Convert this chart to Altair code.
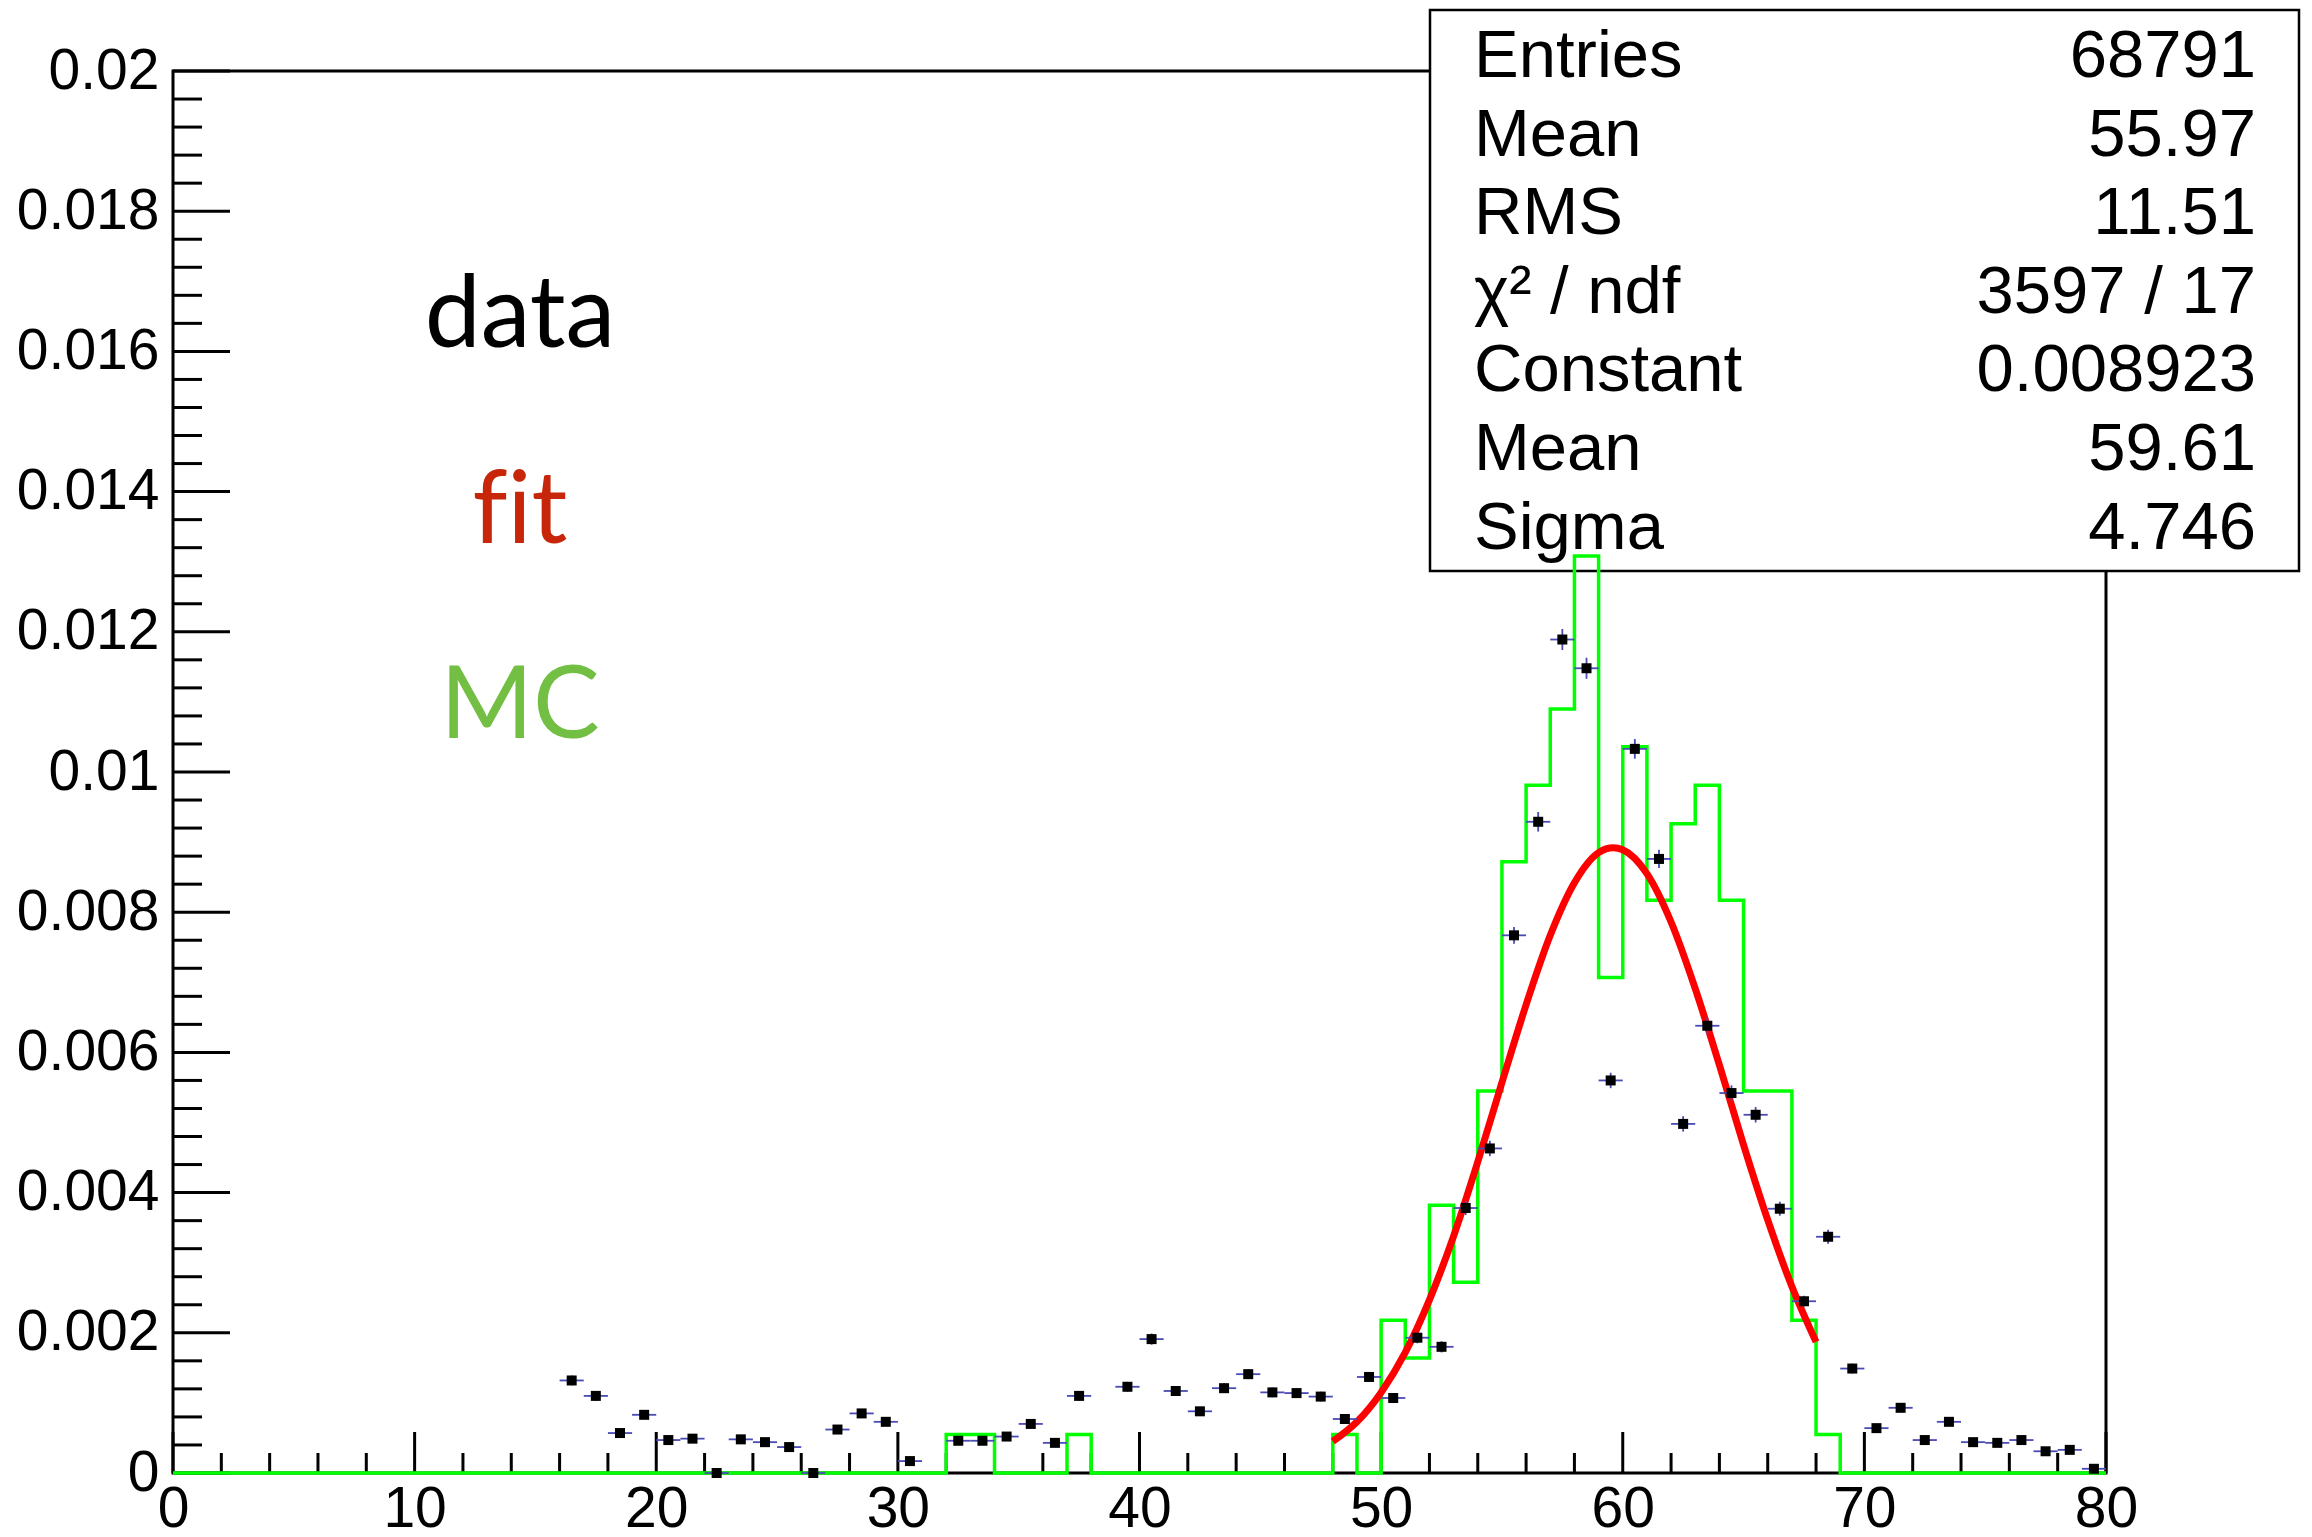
import altair as alt
import pandas as pd

# ---------------- data ----------------
# data histogram (bin centres) and contents
data_x = [16.5, 17.5, 18.5, 19.5, 20.5, 21.5, 22.5, 23.5, 24.5, 25.5, 26.5, 27.5, 28.5, 29.5, 30.5,
          32.5, 33.5, 34.5, 35.5, 36.5, 37.5,
          39.5, 40.5, 41.5, 42.5, 43.5, 44.5, 45.5, 46.5, 47.5, 48.5,
          49.5, 50.5, 51.5, 52.5, 53.5, 54.5, 55.5, 56.5, 57.5, 58.5,
          59.5, 60.5, 61.5, 62.5, 63.5, 64.5, 65.5, 66.5, 67.5, 68.5,
          69.5, 70.5, 71.5, 72.5, 73.5, 74.5, 75.5, 76.5, 77.5, 78.5,
          79.5]
data_y = [1.32e-3, 1.10e-3, 0.57e-3, 0.83e-3, 0.47e-3, 0.49e-3, 0.00e-3, 0.48e-3, 0.44e-3, 0.37e-3,
          0.00e-3, 0.62e-3, 0.85e-3, 0.73e-3, 0.17e-3,
          0.46e-3, 0.46e-3, 0.52e-3, 0.70e-3, 0.43e-3, 1.10e-3,
          1.23e-3, 1.91e-3, 1.17e-3, 0.88e-3, 1.21e-3, 1.41e-3, 1.15e-3, 1.14e-3, 1.09e-3, 0.77e-3,
          1.37e-3, 1.07e-3, 1.93e-3, 1.80e-3, 3.78e-3, 4.63e-3, 7.67e-3, 9.29e-3, 11.89e-3, 11.48e-3,
          5.60e-3, 10.33e-3, 8.76e-3, 4.98e-3, 6.38e-3, 5.42e-3, 5.11e-3, 3.77e-3, 2.45e-3, 3.37e-3,
          1.49e-3, 0.64e-3, 0.93e-3, 0.47e-3, 0.73e-3, 0.44e-3, 0.43e-3, 0.47e-3, 0.31e-3, 0.33e-3,
          0.06e-3]
data_err = [0.07e-3, 0.07e-3, 0.05e-3, 0.05e-3, 0.05e-3, 0.05e-3, 0.02e-3, 0.05e-3, 0.05e-3, 0.05e-3,
            0.02e-3, 0.05e-3, 0.05e-3, 0.05e-3, 0.03e-3,
            0.05e-3, 0.05e-3, 0.05e-3, 0.05e-3, 0.05e-3, 0.07e-3,
            0.07e-3, 0.08e-3, 0.07e-3, 0.05e-3, 0.07e-3, 0.07e-3, 0.07e-3, 0.07e-3, 0.07e-3, 0.05e-3,
            0.07e-3, 0.07e-3, 0.08e-3, 0.08e-3, 0.10e-3, 0.11e-3, 0.12e-3, 0.14e-3, 0.15e-3, 0.15e-3,
            0.11e-3, 0.14e-3, 0.13e-3, 0.11e-3, 0.12e-3, 0.11e-3, 0.11e-3, 0.10e-3, 0.08e-3, 0.10e-3,
            0.07e-3, 0.05e-3, 0.05e-3, 0.05e-3, 0.05e-3, 0.05e-3, 0.05e-3, 0.05e-3, 0.04e-3, 0.04e-3,
            0.02e-3]
bin_half = 0.5

# MC histogram: non-empty bins (lower edge -> content); all other bins are empty
mc_nonzero = {32: 0.55e-3, 33: 0.55e-3, 37: 0.55e-3, 48: 0.55e-3,
              50: 2.18e-3, 51: 1.64e-3, 52: 3.82e-3, 53: 2.72e-3, 54: 5.45e-3,
              55: 8.72e-3, 56: 9.81e-3, 57: 10.90e-3, 58: 13.08e-3, 59: 7.07e-3,
              60: 10.36e-3, 61: 8.17e-3, 62: 9.26e-3, 63: 9.81e-3, 64: 8.17e-3,
              65: 5.45e-3, 66: 5.45e-3, 67: 2.18e-3, 68: 0.55e-3}
mc_edges = list(range(0, 81))

# Gaussian fit curve
fit_x = [48, 49, 50, 51, 52, 53, 54, 55, 56, 57, 58, 59, 59.61, 60, 61, 62, 63, 64, 65, 66, 67, 68]
fit_y = [0.45e-3, 0.73e-3, 1.15e-3, 1.72e-3, 2.47e-3, 3.38e-3, 4.44e-3, 5.57e-3, 6.68e-3, 7.67e-3,
         8.42e-3, 8.85e-3, 8.92e-3, 8.89e-3, 8.55e-3, 7.86e-3, 6.91e-3, 5.82e-3, 4.68e-3, 3.61e-3,
         2.66e-3, 1.87e-3]

# axis ticks
x_major = [0, 10, 20, 30, 40, 50, 60, 70, 80]
x_minor = [v for v in range(0, 81, 2) if v % 10 != 0]
y_major = [0, 0.002, 0.004, 0.006, 0.008, 0.01, 0.012, 0.014, 0.016, 0.018, 0.02]
y_minor = [i * 0.0004 for i in range(0, 51) if i % 5 != 0]

# statistics box
stat_labels = ["Entries", "Mean", "RMS", "\u03c7\u00b2 / ndf", "Constant", "Mean", "Sigma"]
stat_values = ["68791", "55.97", "11.51", "3597 / 17", "0.008923", "59.61", "4.746"]

# ---------------- chart ----------------
W, H = 1933, 1402
FONT = "Liberation Sans"
xs = alt.Scale(domain=[0, 80], nice=False, zero=False)
ys = alt.Scale(domain=[0, 0.02], nice=False, zero=False)
x_axis = alt.Axis(values=x_major, format="d", ticks=False, domain=False, grid=False,
                  labelFont=FONT, labelFontSize=57, labelColor="black", labelPadding=8,
                  labelFlush=False, labelOverlap=False, title=None)
y_axis = alt.Axis(values=y_major, format="~g", ticks=False, domain=False, grid=False,
                  labelFont=FONT, labelFontSize=57, labelColor="black", labelPadding=14,
                  labelFlush=False, labelOverlap=False, labelBaseline="middle", title=None)

pts = pd.DataFrame({"x": data_x, "y": data_y, "e": data_err})
pts["lo"] = pts["x"] - bin_half
pts["hi"] = pts["x"] + bin_half
pts["ylo"] = pts["y"] - pts["e"]
pts["yhi"] = pts["y"] + pts["e"]

mc = pd.DataFrame({"x": mc_edges,
                   "y": [mc_nonzero.get(i, 0.0) for i in mc_edges]})
fit = pd.DataFrame({"x": fit_x, "y": fit_y})
one = pd.DataFrame({"a": [0]})

frame = alt.Chart(one).mark_rect(fill="transparent", stroke="black", strokeWidth=3).encode(
    x=alt.value(0), x2=alt.value(W), y=alt.value(0), y2=alt.value(H))

xt_major = alt.Chart(pd.DataFrame({"v": x_major})).mark_rule(color="black", strokeWidth=3).encode(
    x=alt.X("v:Q", scale=xs, axis=x_axis), y=alt.value(H), y2=alt.value(H - 41))
xt_minor = alt.Chart(pd.DataFrame({"v": x_minor})).mark_rule(color="black", strokeWidth=3).encode(
    x=alt.X("v:Q", scale=xs, axis=x_axis), y=alt.value(H), y2=alt.value(H - 20))
yt_major = alt.Chart(pd.DataFrame({"v": y_major})).mark_rule(color="black", strokeWidth=3).encode(
    y=alt.Y("v:Q", scale=ys, axis=y_axis), x=alt.value(0), x2=alt.value(57))
yt_minor = alt.Chart(pd.DataFrame({"v": y_minor})).mark_rule(color="black", strokeWidth=3).encode(
    y=alt.Y("v:Q", scale=ys, axis=y_axis), x=alt.value(0), x2=alt.value(29))

box = alt.Chart(one).mark_rect(fill="white", stroke="black", strokeWidth=2.5).encode(
    x=alt.value(1257), x2=alt.value(2126), y=alt.value(-61), y2=alt.value(500))

stat_layers = []
for i, (lab, val) in enumerate(zip(stat_labels, stat_values)):
    yy = 6 + 78.6 * i
    stat_layers.append(alt.Chart(one).mark_text(
        align="left", baseline="alphabetic", font=FONT, fontSize=67, color="black").encode(
        x=alt.value(1301), y=alt.value(yy), text=alt.value(lab)))
    stat_layers.append(alt.Chart(one).mark_text(
        align="right", baseline="alphabetic", font=FONT, fontSize=67, color="black").encode(
        x=alt.value(2083), y=alt.value(yy), text=alt.value(val)))

mc_line = alt.Chart(mc).mark_line(interpolate="step-after", color="#00ff00", strokeWidth=3.5).encode(
    x=alt.X("x:Q", scale=xs, axis=x_axis), y=alt.Y("y:Q", scale=ys, axis=y_axis))

fit_line = alt.Chart(fit).mark_line(interpolate="monotone", color="#ff0000", strokeWidth=7).encode(
    x=alt.X("x:Q", scale=xs, axis=x_axis), y=alt.Y("y:Q", scale=ys, axis=y_axis))

herr = alt.Chart(pts).mark_rule(color="#4b4bb4", strokeWidth=1.8).encode(
    x=alt.X("lo:Q", scale=xs, axis=x_axis), x2="hi:Q", y=alt.Y("y:Q", scale=ys, axis=y_axis))
verr = alt.Chart(pts).mark_rule(color="#4b4bb4", strokeWidth=1.8).encode(
    x=alt.X("x:Q", scale=xs, axis=x_axis), y=alt.Y("ylo:Q", scale=ys, axis=y_axis), y2="yhi:Q")

points = alt.Chart(pts).mark_point(shape="square", filled=True, size=100, color="black", opacity=1).encode(
    x=alt.X("x:Q", scale=xs, axis=x_axis),
    y=alt.Y("y:Q", scale=ys, axis=y_axis))

lbl_data = alt.Chart(one).mark_text(font="Lato", fontSize=100, align="center", baseline="alphabetic",
                                    color="black").encode(x=alt.value(347), y=alt.value(276), text=alt.value("data"))
lbl_fit = alt.Chart(one).mark_text(font="Lato", fontSize=100, align="center", baseline="alphabetic",
                                   color="#c8260a").encode(x=alt.value(347), y=alt.value(472),
                                                           text=alt.value("f\u200cit"))
lbl_mc = alt.Chart(one).mark_text(font="Lato", fontSize=100, align="center", baseline="alphabetic",
                                  color="#72bf44").encode(x=alt.value(347), y=alt.value(667), text=alt.value("MC"))

chart = alt.layer(
    frame, xt_major, xt_minor, yt_major, yt_minor, box, *stat_layers,
    mc_line, fit_line, herr, verr, points, lbl_data, lbl_fit, lbl_mc
).properties(
    width=W, height=H,
    autosize=alt.AutoSizeParams(type="none"),
    padding={"left": 173, "top": 71, "right": 206, "bottom": 64},
    background="white",
).configure_view(strokeWidth=0)

chart.save("out.html", embed_options={"renderer": "svg", "actions": False})
